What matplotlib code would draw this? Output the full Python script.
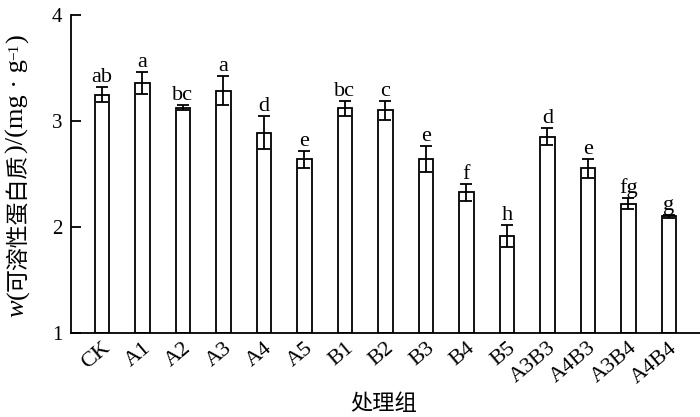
import matplotlib
matplotlib.use("Agg")
import matplotlib.pyplot as plt
import matplotlib.transforms as mtransforms

categories = ["CK", "A1", "A2", "A3", "A4", "A5", "B1", "B2", "B3", "B4", "B5",
              "A3B3", "A4B3", "A3B4", "A4B4"]
values = [3.25, 3.36, 3.125, 3.285, 2.89, 2.64, 3.12, 3.10, 2.64, 2.33, 1.915,
          2.85, 2.555, 2.22, 2.10]
errors = [0.07, 0.105, 0.025, 0.135, 0.155, 0.08, 0.07, 0.09, 0.12, 0.08, 0.105,
          0.08, 0.09, 0.05, 0.015]
letters = ["ab", "a", "bc", "a", "d", "e", "bc", "c", "e", "f", "h",
           "d", "e", "fg", "g"]
yticks = [1, 2, 3, 4]

plt.rcParams['font.family'] = ['Liberation Serif', 'Noto Sans CJK SC']

fig = plt.figure(figsize=(7.0, 4.17), dpi=100)
ax = fig.add_axes([0.101, 0.2014, 0.899, 0.7626])

x = list(range(len(categories)))
ax.bar(x, [v - 1 for v in values], bottom=1, width=0.36, facecolor='white',
       edgecolor='black', linewidth=1.3, zorder=2)
ax.errorbar(x, values, yerr=errors, fmt='none', ecolor='black', elinewidth=1.3,
            capsize=4.5, capthick=1.3, zorder=3)
for xi, v, e, t in zip(x, values, errors, letters):
    ax.annotate(t, (xi, v + e), xytext=(0, 0), textcoords='offset points',
                ha='center', va='bottom', fontsize=16)

ax.set_xlim(-0.77, 14.77)
ax.set_ylim(1, 4)
ax.set_yticks(yticks)
ax.set_yticklabels([str(t) for t in yticks], fontsize=15)
ax.set_xticks(x)
ax.set_xticklabels(categories, fontsize=16, rotation=40, ha='right',
                   rotation_mode='anchor')
offset = mtransforms.ScaledTranslation(8 / 100, 0, fig.dpi_scale_trans)
for lab in ax.get_xticklabels():
    lab.set_transform(lab.get_transform() + offset)

ax.tick_params(axis='y', direction='in', length=7, width=1.3, pad=6)
ax.tick_params(axis='x', length=0, pad=4)
for s in ['top', 'right']:
    ax.spines[s].set_visible(False)
for s in ['left', 'bottom']:
    ax.spines[s].set_linewidth(1.3)

# y label composed of pieces (italic w, CJK text, superscript)
LAT = 19
ya = ax.text(-0.084, 0.05, "w", transform=ax.transAxes, rotation=90,
             ha='center', va='bottom', fontstyle='italic', fontsize=LAT)
yb = ax.annotate("(", xy=(0.5, 1), xycoords=ya,
                 rotation=90, ha='center', va='bottom', fontsize=LAT)
yc = ax.annotate("可溶性蛋白质", xy=(0.5, 1), xycoords=yb, xytext=(0.5, 0),
                 textcoords='offset points',
                 rotation=90, ha='center', va='bottom', fontsize=16.5)
ye = ax.annotate(")/(mg · g", xy=(0.5, 1), xycoords=(yb, yc),
                 rotation=90, ha='center', va='bottom', fontsize=LAT)
yf = ax.annotate("−1", xy=(0, 1), xycoords=ye, xytext=(1.5, 0),
                 textcoords='offset points', rotation=90, ha='left',
                 va='bottom', fontsize=11)
yg = ax.annotate(")", xy=(0.5, 1), xycoords=(ye, yf), rotation=90,
                 ha='center', va='bottom', fontsize=LAT)

fig.text(0.548, 0.03, "处理组", ha='center', va='center', fontsize=16)

fig.savefig("out.png", dpi=100)
